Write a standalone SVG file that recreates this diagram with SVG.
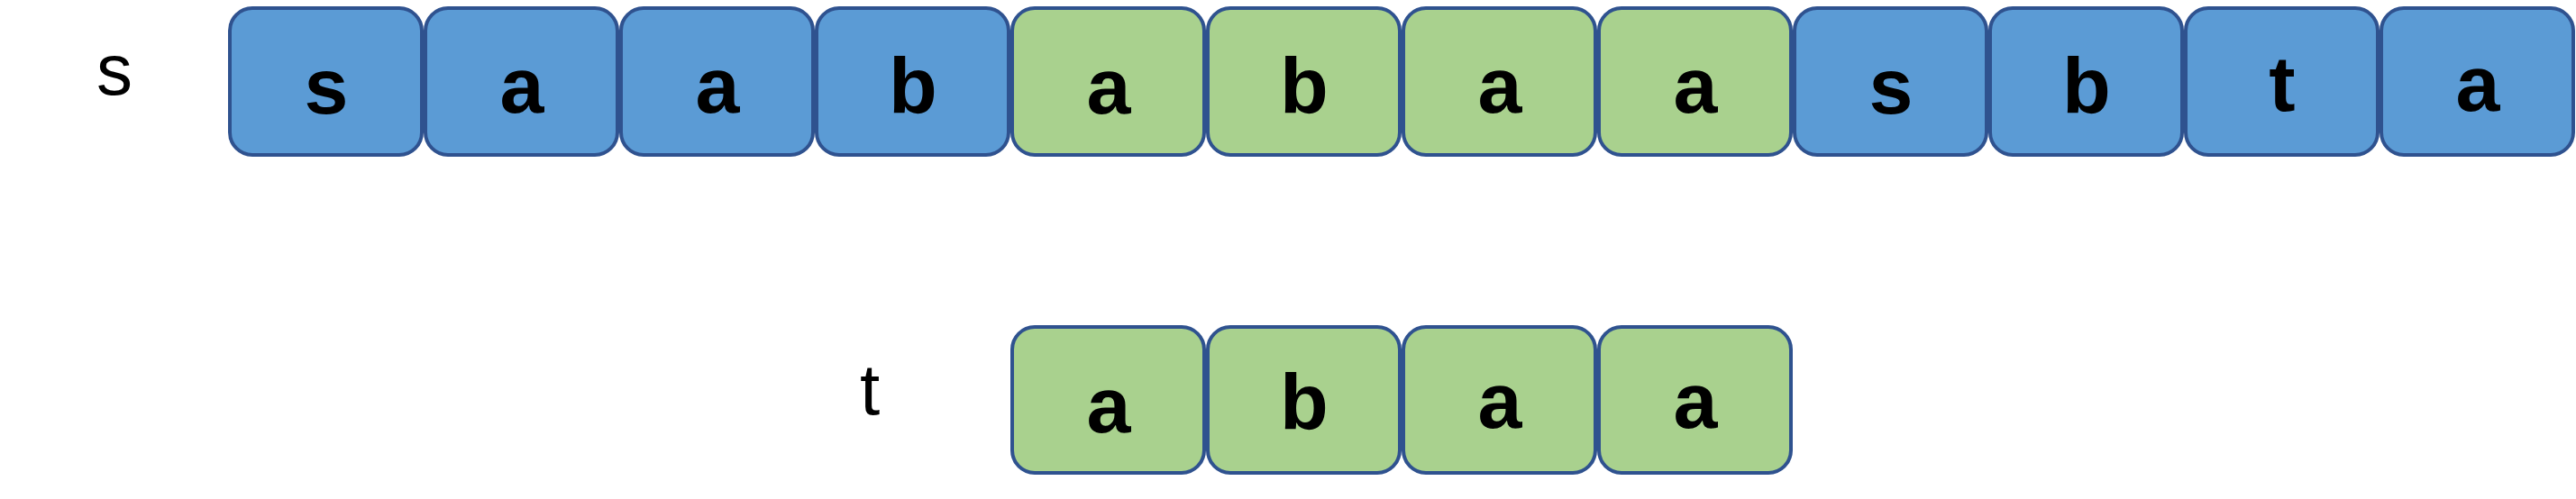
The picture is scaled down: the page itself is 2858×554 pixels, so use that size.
<svg xmlns="http://www.w3.org/2000/svg" width="2858" height="554" viewBox="0 0 2858 554">
<style>
.box{stroke:#2F528F;stroke-width:4}
.blue{fill:#5B9BD5}
.green{fill:#A9D18E}
.ch{font-family:"Liberation Sans",Arial,sans-serif;font-weight:bold;font-size:88px;fill:#000;text-anchor:middle}
.lbl{font-family:"Liberation Sans",Arial,sans-serif;font-size:80px;fill:#000;text-anchor:middle}
</style>
<rect width="2858" height="554" fill="#fff"/>
<g id="label-s"><text class="lbl" x="127" y="105">s</text></g>
<g id="label-t"><text class="lbl" x="965" y="460">t</text></g>
<g id="s-row">
<g id="s0"><rect class="box blue" x="255" y="9" width="213" height="163" rx="25"/><text class="ch" x="362" y="126">s</text></g>
<g id="s1"><rect class="box blue" x="472" y="9" width="213" height="163" rx="25"/><text class="ch" x="579" y="125">a</text></g>
<g id="s2"><rect class="box blue" x="689" y="9" width="213" height="163" rx="25"/><text class="ch" x="796" y="125">a</text></g>
<g id="s3"><rect class="box blue" x="906" y="9" width="213" height="163" rx="25"/><text class="ch" x="1013" y="125">b</text></g>
<g id="s4"><rect class="box green" x="1123" y="9" width="213" height="163" rx="25"/><text class="ch" x="1230" y="126">a</text></g>
<g id="s5"><rect class="box green" x="1340" y="9" width="213" height="163" rx="25"/><text class="ch" x="1447" y="125">b</text></g>
<g id="s6"><rect class="box green" x="1557" y="9" width="213" height="163" rx="25"/><text class="ch" x="1664" y="125">a</text></g>
<g id="s7"><rect class="box green" x="1774" y="9" width="213" height="163" rx="25"/><text class="ch" x="1881" y="125">a</text></g>
<g id="s8"><rect class="box blue" x="1991" y="9" width="213" height="163" rx="25"/><text class="ch" x="2098" y="126">s</text></g>
<g id="s9"><rect class="box blue" x="2208" y="9" width="213" height="163" rx="25"/><text class="ch" x="2315" y="125">b</text></g>
<g id="s10"><rect class="box blue" x="2425" y="9" width="213" height="163" rx="25"/><text class="ch" x="2532" y="123">t</text></g>
<g id="s11"><rect class="box blue" x="2642" y="9" width="213" height="163" rx="25"/><text class="ch" x="2749" y="123">a</text></g>
</g>
<g id="t-row">
<g id="t0"><rect class="box green" x="1123" y="363" width="213" height="162" rx="25"/><text class="ch" x="1230" y="480">a</text></g>
<g id="t1"><rect class="box green" x="1340" y="363" width="213" height="162" rx="25"/><text class="ch" x="1447" y="476">b</text></g>
<g id="t2"><rect class="box green" x="1557" y="363" width="213" height="162" rx="25"/><text class="ch" x="1664" y="475">a</text></g>
<g id="t3"><rect class="box green" x="1774" y="363" width="213" height="162" rx="25"/><text class="ch" x="1881" y="475">a</text></g>
</g>
<g id="connectors"/>
</svg>
